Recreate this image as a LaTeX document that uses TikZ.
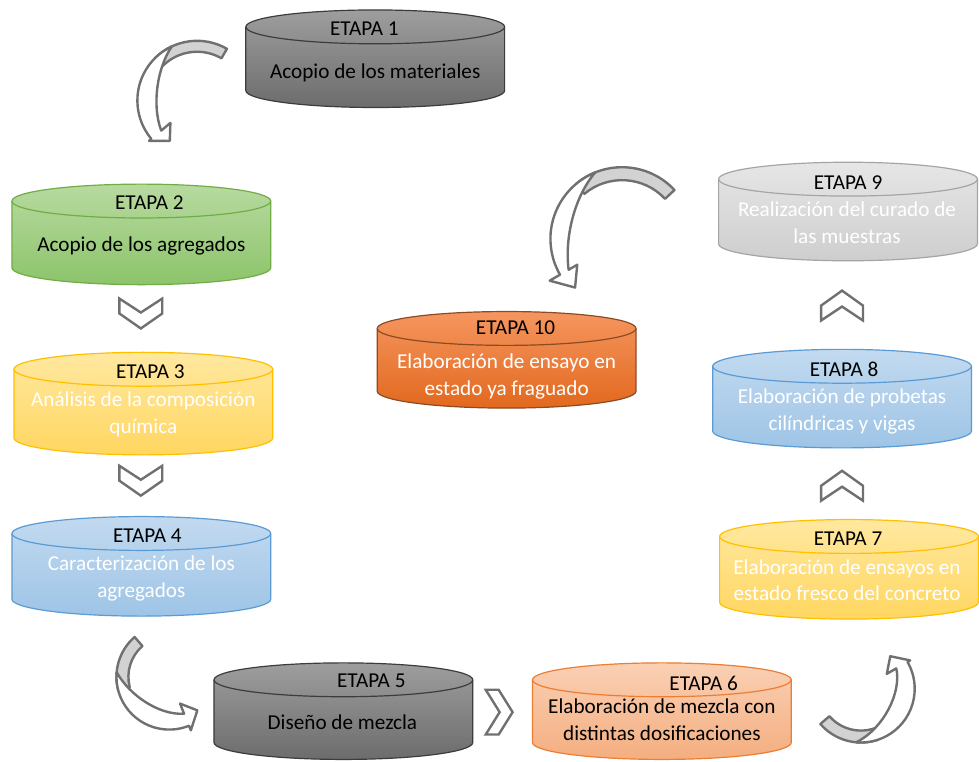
\documentclass[tikz,border=0pt]{standalone}
\usepackage{fontspec}
\setmainfont{Carlito}

\definecolor{grisA}{RGB}{158,158,158}
\definecolor{grisB}{RGB}{108,108,108}
\definecolor{grisL}{RGB}{60,60,60}
\definecolor{verdeA}{RGB}{184,218,160}
\definecolor{verdeB}{RGB}{140,196,106}
\definecolor{verdeL}{RGB}{112,173,71}
\definecolor{amaA}{RGB}{255,232,160}
\definecolor{amaB}{RGB}{255,214,96}
\definecolor{amaL}{RGB}{255,192,0}
\definecolor{azulA}{RGB}{194,218,240}
\definecolor{azulB}{RGB}{158,196,230}
\definecolor{azulL}{RGB}{91,155,213}
\definecolor{narA}{RGB}{250,208,180}
\definecolor{narB}{RGB}{244,174,128}
\definecolor{narL}{RGB}{237,125,49}
\definecolor{rojA}{RGB}{245,150,95}
\definecolor{rojB}{RGB}{226,104,30}
\definecolor{rojL}{RGB}{140,75,35}
\definecolor{clarA}{RGB}{230,230,230}
\definecolor{clarB}{RGB}{206,206,206}
\definecolor{clarL}{RGB}{165,165,165}
\definecolor{trazo}{RGB}{112,112,112}
\definecolor{banda}{RGB}{210,210,210}

% cilindro: relleno, borde, centro x, y de la tapa, y de la base
\newcommand{\cil}[5]{%
  \shade[#1, draw=#2] (#3-130,#4) -- (#3-130,#5) arc[start angle=180, end angle=0, x radius=130, y radius=17]
    -- (#3+130,#4) arc[start angle=0, end angle=-180, x radius=130, y radius=17] -- cycle;
  \draw[#2] (#3-130,#4) arc[start angle=180, end angle=0, x radius=130, y radius=17];
}

\begin{document}
\begin{tikzpicture}[x=1pt, y=-1pt, line width=1.2pt,
    gris/.style={top color=grisA, bottom color=grisB},
    verde/.style={top color=verdeA, bottom color=verdeB},
    ama/.style={top color=amaA, bottom color=amaB},
    azul/.style={top color=azulA, bottom color=azulB},
    nar/.style={top color=narA, bottom color=narB},
    roj/.style={top color=rojA, bottom color=rojB},
    clar/.style={top color=clarA, bottom color=clarB},
    etapa/.style={font=\fontsize{21.3}{27}\selectfont, inner sep=0pt},
    texto/.style={font=\fontsize{21.3}{27}\selectfont, align=center, inner sep=0pt},
    chevron/.style={fill=white, draw=trazo, line width=2.4pt},
    cinta/.style={fill=banda, draw=trazo, line width=2.4pt, line join=round},
    flecha/.style={fill=white, draw=trazo, line width=2.4pt, line join=round}]
  \path[fill=white] (0,0) rectangle (979,765);

  % cilindros
  \cil{gris}{grisL}{377}{27}{91}
  \cil{verde}{verdeL}{142}{202}{269}
  \cil{ama}{amaL}{144}{371}{440}
  \cil{azul}{azulL}{142}{536}{602}
  \cil{gris}{grisL}{345}{683}{746}
  \cil{nar}{narL}{665}{683}{746}
  \cil{ama}{amaL}{853}{539}{605}
  \cil{azul}{azulL}{846}{368}{433}
  \cil{clar}{clarL}{852}{180}{245}
  \cil{roj}{rojL}{509}{330}{393}

  \node[etapa] (t1) at (366,29) {ETAPA 1};
  \node[texto] (d1) at (377,73) {Acopio de los materiales};
  \node[etapa] (t2) at (150,204) {ETAPA 2};
  \node[texto] (d2) at (142,247) {Acopio de los agregados};
  \node[etapa] (t3) at (151,373) {ETAPA 3};
  \node[texto, text=white] (d3) at (144,416) {Análisis de la composición\\química};
  \node[etapa] (t4) at (148,538) {ETAPA 4};
  \node[texto, text=white] (d4) at (142,581) {Caracterización de los\\agregados};
  \node[etapa] (t5) at (373,684) {ETAPA 5};
  \node[texto] (d5) at (344,726) {Diseño de mezcla};
  \node[etapa] (t6) at (707,687) {ETAPA 6};
  \node[texto] (d6) at (665,723) {Elaboración de mezcla con\\distintas dosificaciones};
  \node[etapa] (t7) at (852,541) {ETAPA 7};
  \node[texto, text=white] (d7) at (851,583) {Elaboración de ensayos en\\estado fresco del concreto};
  \node[etapa] (t8) at (848,371) {ETAPA 8};
  \node[texto, text=white] (d8) at (846,413) {Elaboración de probetas\\cilíndricas y vigas};
  \node[etapa] (t9) at (852,183) {ETAPA 9};
  \node[texto, text=white] (d9) at (851,224) {Realización del curado de\\las muestras};
  \node[etapa] (t10) at (518,329) {ETAPA 10};
  \node[texto, text=white] (d10) at (509,378) {Elaboración de ensayo en\\estado ya fraguado};

  % chevrones
  \draw[chevron] (120,300) -- (141.5,314) -- (163,300) -- (163,315) -- (141.5,330) -- (120,315) -- cycle;
  \draw[chevron] (120,468) -- (141.5,482) -- (163,468) -- (163,483) -- (141.5,498) -- (120,483) -- cycle;
  \draw[chevron] (825,322) -- (846,308) -- (867,322) -- (867,307) -- (846,292) -- (825,307) -- cycle;
  \draw[chevron] (825,503) -- (846,489) -- (867,503) -- (867,488) -- (846,473) -- (825,488) -- cycle;
  \draw[chevron] (488,693) -- (501,693) -- (515,715.5) -- (501,738) -- (488,738) -- (502,715.5) -- cycle;

  % flechas curvas
  \begin{scope}[shift={(198,101)}]
    \filldraw[cinta] (-60:60) arc[start angle=-60, end angle=-135, radius=60] -- (-135:49) arc[start angle=-135, end angle=-60, radius=49] -- cycle;
    \filldraw[flecha] (-115:60) arc[start angle=-115, end angle=-220, radius=60] -- (-220:63) -- (-236:49) -- (-220:35) -- (-220:47)
      .. controls (-185:46) and (-140:52) .. (-115:60) -- cycle;
  \end{scope}
  \begin{scope}[shift={(625,240)}]
    \filldraw[cinta] (-43:72) arc[start angle=-43, end angle=-130, radius=72] -- (-130:59) arc[start angle=-130, end angle=-43, radius=59] -- cycle;
    \filldraw[flecha] (-112:72) arc[start angle=-112, end angle=-210, radius=72] -- (-210:84) -- (-226:68) -- (-210:52) -- (-210:62)
      .. controls (-178:58) and (-138:64) .. (-112:72) -- cycle;
  \end{scope}
  \begin{scope}[shift={(170,680)}]
    \filldraw[cinta] (-131:53) arc[start angle=-131, end angle=-195, radius=53] -- (-195:41) arc[start angle=-195, end angle=-131, radius=41] -- cycle;
    \filldraw[flecha] (-175:53) arc[start angle=-175, end angle=-292, radius=53] -- (-292:58) -- (-310:44) -- (-292:29) -- (-292:40)
      .. controls (-255:40) and (-205:44) .. (-175:53) -- cycle;
  \end{scope}
  \begin{scope}[shift={(865,692)}]
    \filldraw[cinta] (139:54) arc[start angle=139, end angle=72, radius=54] -- (72:42) arc[start angle=72, end angle=139, radius=42] -- cycle;
    \filldraw[flecha] (95:54) arc[start angle=95, end angle=-30, radius=54] -- (-30:57) -- (-48:44) -- (-30:30) -- (-30:41)
      .. controls (5:41) and (60:46) .. (95:54) -- cycle;
  \end{scope}
\end{tikzpicture}
\end{document}
